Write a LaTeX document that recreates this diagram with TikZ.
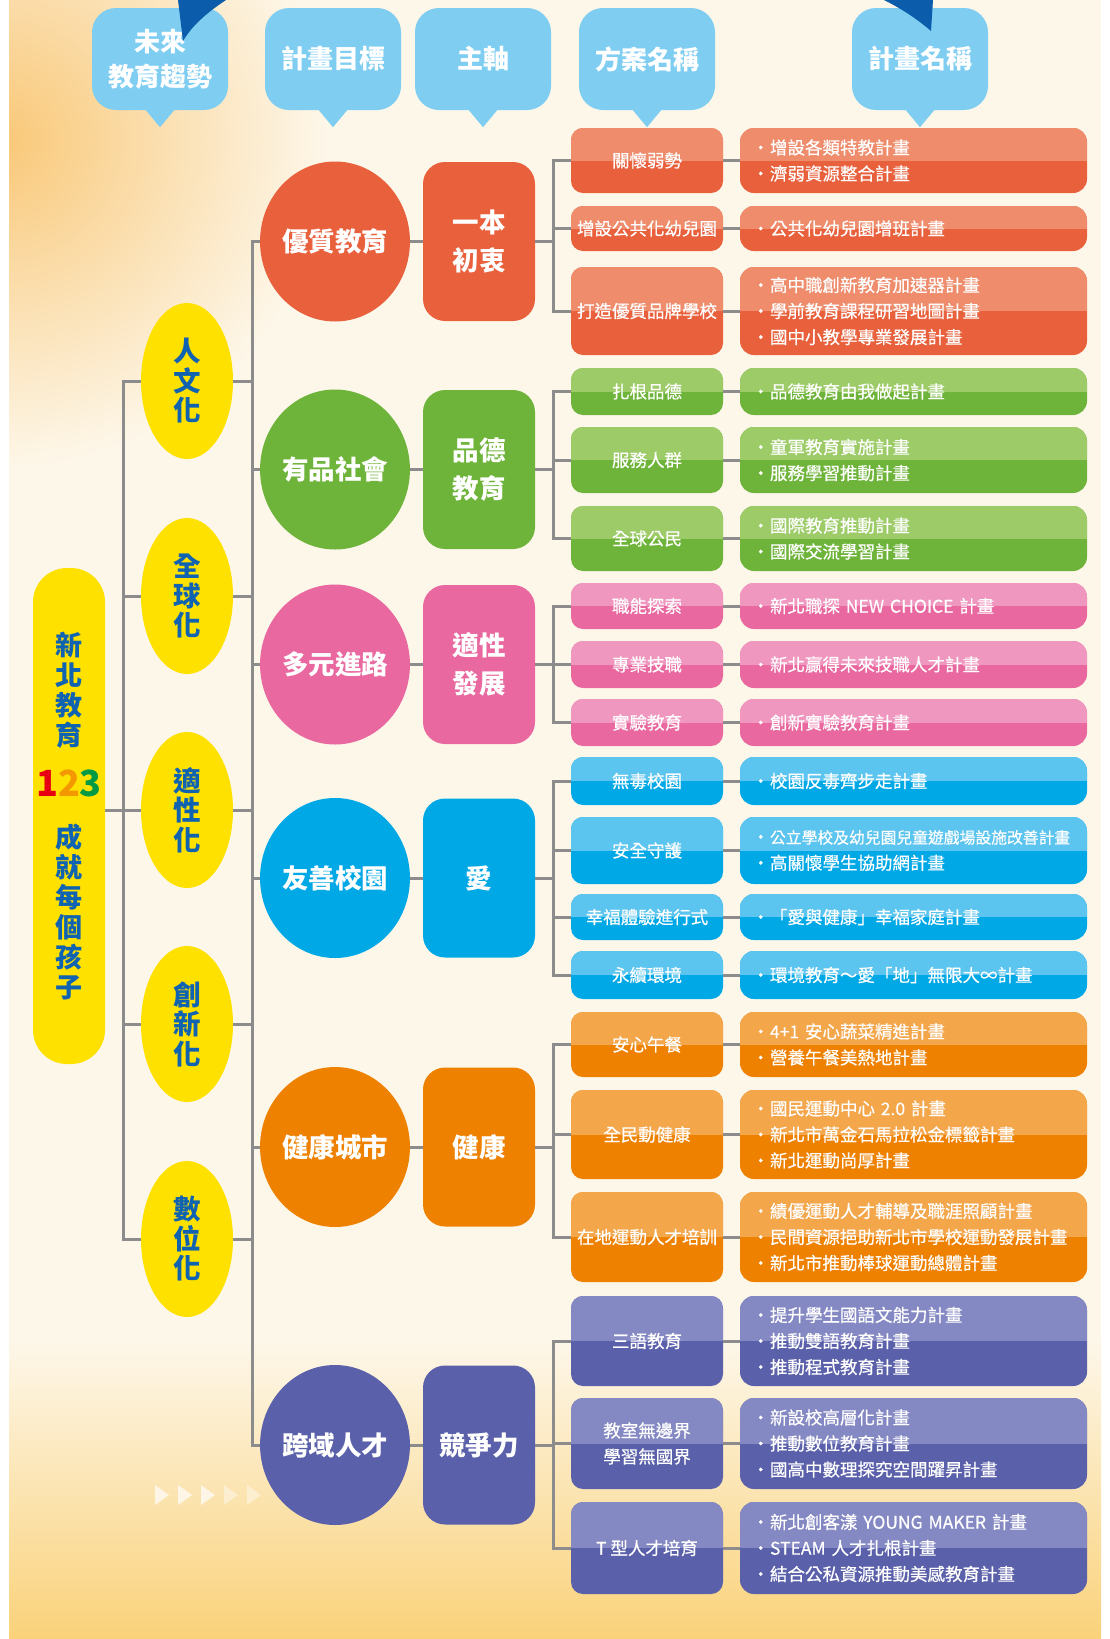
\documentclass[tikz,border=0pt]{standalone}
\usepackage{fontspec}
\setmainfont{Noto Sans CJK TC}
\newfontfamily\cjkmed{Noto Sans CJK TC}[FakeBold=0.5]
\usetikzlibrary{shapes.geometric}

\definecolor{bgcream}{HTML}{FDF7EA}
\definecolor{glow}{HTML}{F9C878}
\definecolor{sand}{HTML}{FAD27A}
\definecolor{linkgray}{HTML}{8C8C8C}
\definecolor{hdblue}{HTML}{7FCEF2}
\definecolor{navy}{HTML}{0C5CAC}
\definecolor{trendyel}{HTML}{FFE100}
\definecolor{trendtxt}{HTML}{0F63B1}
\definecolor{redD}{HTML}{E8603C}
\definecolor{redL}{HTML}{EE8C6C}
\definecolor{grnD}{HTML}{6FB43A}
\definecolor{grnL}{HTML}{9CCB68}
\definecolor{pnkD}{HTML}{E8689F}
\definecolor{pnkL}{HTML}{F097C0}
\definecolor{bluD}{HTML}{00A8E6}
\definecolor{bluL}{HTML}{5CC5EF}
\definecolor{orgD}{HTML}{EE8100}
\definecolor{orgL}{HTML}{F4A64B}
\definecolor{prpD}{HTML}{5A60A9}
\definecolor{prpL}{HTML}{8589C3}
\definecolor{oneRed}{HTML}{E60012}
\definecolor{twoOrg}{HTML}{F39800}
\definecolor{threeGrn}{HTML}{009944}

\newcommand{\itm}{\makebox[18pt][l]{•}}

\begin{document}
\begin{tikzpicture}[x=1pt,y=1pt,yscale=-1,
		link/.style={draw=linkgray, line width=3pt},
		bubble/.style={fill=hdblue, rounded corners=24pt, minimum width=136, minimum height=102, inner sep=0, text=white, align=center, font=\fontsize{26}{35}\selectfont\bfseries},
		mainbox/.style={fill=trendyel, rounded corners=34pt, minimum width=72, minimum height=496, inner sep=0, text=trendtxt, align=center, font=\fontsize{27}{30}\selectfont\bfseries},
		trend/.style={ellipse, fill=trendyel, minimum width=92, minimum height=156, inner sep=0, text=trendtxt, align=center, font=\fontsize{27.5}{29.5}\selectfont\bfseries},
		goal/.style={ellipse, fill=#1, minimum width=136, minimum height=160, inner sep=0, text=white, font=\fontsize{26.5}{30}\selectfont\bfseries},
		pillar/.style={fill=#1, rounded corners=22pt, minimum width=112, minimum height=159, inner sep=0, text=white, align=center, font=\fontsize{26.5}{38}\selectfont\bfseries},
		tone/.style 2 args={fill=#1, path picture={\fill[#2, sharp corners] (path picture bounding box.north west) rectangle (path picture bounding box.east);}},
		plan/.style={rounded corners=12pt, minimum width=152, inner sep=0, text=white, align=center, font=\cjkmed\fontsize{17.5}{26}\selectfont},
		detail/.style={rounded corners=14pt, text width=323, inner xsep=12, inner ysep=0, text=white, align=left, font=\cjkmed\fontsize{17.5}{26}\selectfont}]
		% Set the frame of the diagram to 1110 x 1639
		\useasboundingbox (0,0) rectangle (1110,1639);

		% Draw the background with its warm glows
		\fill[white] (0,0) rectangle (1110,1639);
		\fill[bgcream] (9,0) rectangle (1101,1639);
		\begin{scope}
			\clip (9,0) rectangle (1101,1639);
			\shade[inner color=glow, outer color=bgcream] (0,140) circle (330);
			\shade[top color=bgcream, bottom color=sand] (9,1340) rectangle (1101,1639);
		\end{scope}

		% Draw the faint arrows at the bottom left
		\fill[white, opacity=0.7] (155,1485) -- (169,1495) -- (155,1505) -- cycle
			(178,1485) -- (192,1495) -- (178,1505) -- cycle
			(201,1485) -- (215,1495) -- (201,1505) -- cycle;
		\fill[white, opacity=0.4] (224,1485) -- (238,1495) -- (224,1505) -- cycle
			(247,1485) -- (261,1495) -- (247,1505) -- cycle;

		% The column headings (speech bubbles)
		\node[bubble] (hdTrend) at (160,59) {未來\\教育趨勢};
		\node[bubble] (hdGoal) at (333,59) {計畫目標};
		\node[bubble] (hdAxis) at (483,59) {主軸};
		\node[bubble] (hdPlan) at (647,59) {方案名稱};
		\node[bubble] (hdProj) at (920,59) {計畫名稱};
		\fill[hdblue] (hdTrend.south) ++(-15,-1) -- ++(30,0) -- ++(-15,18) -- cycle;
		\fill[hdblue] (hdGoal.south) ++(-15,-1) -- ++(30,0) -- ++(-15,18) -- cycle;
		\fill[hdblue] (hdAxis.south) ++(-15,-1) -- ++(30,0) -- ++(-15,18) -- cycle;
		\fill[hdblue] (hdPlan.south) ++(-15,-1) -- ++(30,0) -- ++(-15,18) -- cycle;
		\fill[hdblue] (hdProj.south) ++(-15,-1) -- ++(30,0) -- ++(-15,18) -- cycle;

		% The dark blue arrow tips cut by the top edge
		\fill[navy] (178,0) -- (226,0) .. controls (205,14) and (192,26) .. (183,41) -- cycle;
		\fill[navy] (884,0) -- (933,0) -- (931,31) .. controls (916,18) and (900,8) .. (884,0) -- cycle;

		% The motto on the left
		\node[mainbox] (motto) at (69,816) {新\\北\\教\\育\\[21pt]{\fontsize{36}{36}\selectfont\textcolor{oneRed}{1}\textcolor{twoOrg}{2}\textcolor{threeGrn}{3}}\\[21pt]成\\就\\每\\個\\孩\\子};

		% The future trends (yellow ellipses)
		\node[trend] (trHum) at (187,381) {人\\文\\化};
		\node[trend] (trGlo) at (187,596) {全\\球\\化};
		\node[trend] (trApt) at (187,810) {適\\性\\化};
		\node[trend] (trInn) at (187,1024) {創\\新\\化};
		\node[trend] (trDig) at (187,1239) {數\\位\\化};

		% The goals (circles)
		\node[goal=redD] (gQual) at (335,241.5) {優質教育};
		\node[goal=grnD] (gSoc) at (335,469.5) {有品社會};
		\node[goal=pnkD] (gPath) at (335,664.5) {多元進路};
		\node[goal=bluD] (gFri) at (335,878) {友善校園};
		\node[goal=orgD] (gHlt) at (335,1147) {健康城市};
		\node[goal=prpD] (gTal) at (335,1445) {跨域人才};

		% The main axes (rounded squares)
		\node[pillar=redD] (aQual) at (479,241.5) {一本\\初衷};
		\node[pillar=grnD] (aSoc) at (479,469.5) {品德\\教育};
		\node[pillar=pnkD] (aPath) at (479,664.5) {適性\\發展};
		\node[pillar=bluD] (aFri) at (479,878) {愛};
		\node[pillar=orgD] (aHlt) at (479,1147) {健康};
		\node[pillar=prpD] (aTal) at (479,1445) {競爭力};

		% Red group: plans and projects
		\node[plan, tone={redD}{redL}, minimum height=65] (p11) at (647,160.5) {關懷弱勢};
		\node[plan, tone={redD}{redL}, minimum height=45] (p12) at (647,228.5) {增設公共化幼兒園};
		\node[plan, tone={redD}{redL}, minimum height=88] (p13) at (647,311) {打造優質品牌學校};
		\node[detail, tone={redD}{redL}, minimum height=65] (d11) at (913.5,160.5) {\itm 增設各類特教計畫\\\itm 濟弱資源整合計畫};
		\node[detail, tone={redD}{redL}, minimum height=45] (d12) at (913.5,228.5) {\itm 公共化幼兒園增班計畫};
		\node[detail, tone={redD}{redL}, minimum height=88] (d13) at (913.5,311) {\itm 高中職創新教育加速器計畫\\\itm 學前教育課程研習地圖計畫\\\itm 國中小教學專業發展計畫};

		% Green group
		\node[plan, tone={grnD}{grnL}, minimum height=47] (p21) at (647,391.5) {扎根品德};
		\node[plan, tone={grnD}{grnL}, minimum height=66] (p22) at (647,460) {服務人群};
		\node[plan, tone={grnD}{grnL}, minimum height=65] (p23) at (647,538.5) {全球公民};
		\node[detail, tone={grnD}{grnL}, minimum height=47] (d21) at (913.5,391.5) {\itm 品德教育由我做起計畫};
		\node[detail, tone={grnD}{grnL}, minimum height=66] (d22) at (913.5,460) {\itm 童軍教育實施計畫\\\itm 服務學習推動計畫};
		\node[detail, tone={grnD}{grnL}, minimum height=65] (d23) at (913.5,538.5) {\itm 國際教育推動計畫\\\itm 國際交流學習計畫};

		% Pink group
		\node[plan, tone={pnkD}{pnkL}, minimum height=46] (p31) at (647,606) {職能探索};
		\node[plan, tone={pnkD}{pnkL}, minimum height=47] (p32) at (647,664.5) {專業技職};
		\node[plan, tone={pnkD}{pnkL}, minimum height=47] (p33) at (647,722.5) {實驗教育};
		\node[detail, tone={pnkD}{pnkL}, minimum height=46] (d31) at (913.5,606) {\itm 新北職探 NEW CHOICE 計畫};
		\node[detail, tone={pnkD}{pnkL}, minimum height=47] (d32) at (913.5,664.5) {\itm 新北贏得未來技職人才計畫};
		\node[detail, tone={pnkD}{pnkL}, minimum height=47] (d33) at (913.5,722.5) {\itm 創新實驗教育計畫};

		% Blue group
		\node[plan, tone={bluD}{bluL}, minimum height=48] (p41) at (647,781) {無毒校園};
		\node[plan, tone={bluD}{bluL}, minimum height=67] (p42) at (647,850.5) {安全守護};
		\node[plan, tone={bluD}{bluL}, minimum height=46] (p43) at (647,917) {幸福體驗進行式};
		\node[plan, tone={bluD}{bluL}, minimum height=48] (p44) at (647,975) {永續環境};
		\node[detail, tone={bluD}{bluL}, minimum height=48] (d41) at (913.5,781) {\itm 校園反毒齊步走計畫};
		\node[detail, tone={bluD}{bluL}, minimum height=67] (d42) at (913.5,850.5) {\itm{\fontsize{15.8}{26}\selectfont 公立學校及幼兒園兒童遊戲場設施改善計畫}\\\itm 高關懷學生協助網計畫};
		\node[detail, tone={bluD}{bluL}, minimum height=46] (d43) at (913.5,917) {\itm 「愛與健康」幸福家庭計畫};
		\node[detail, tone={bluD}{bluL}, minimum height=48] (d44) at (913.5,975) {\itm 環境教育～愛「地」無限大∞計畫};

		% Orange group
		\node[plan, tone={orgD}{orgL}, minimum height=65] (p51) at (647,1044.5) {安心午餐};
		\node[plan, tone={orgD}{orgL}, minimum height=89] (p52) at (647,1134.5) {全民動健康};
		\node[plan, tone={orgD}{orgL}, minimum height=90] (p53) at (647,1237) {在地運動人才培訓};
		\node[detail, tone={orgD}{orgL}, minimum height=65] (d51) at (913.5,1044.5) {\itm 4+1 安心蔬菜精進計畫\\\itm 營養午餐美熱地計畫};
		\node[detail, tone={orgD}{orgL}, minimum height=89] (d52) at (913.5,1134.5) {\itm 國民運動中心 2.0 計畫\\\itm 新北市萬金石馬拉松金標籤計畫\\\itm 新北運動尚厚計畫};
		\node[detail, tone={orgD}{orgL}, minimum height=90] (d53) at (913.5,1237) {\itm 績優運動人才輔導及職涯照顧計畫\\\itm 民間資源挹助新北市學校運動發展計畫\\\itm 新北市推動棒球運動總體計畫};

		% Purple group
		\node[plan, tone={prpD}{prpL}, minimum height=90] (p61) at (647,1341) {三語教育};
		\node[plan, tone={prpD}{prpL}, minimum height=91] (p62) at (647,1443.5) {教室無邊界\\學習無國界};
		\node[plan, tone={prpD}{prpL}, minimum height=92] (p63) at (647,1548) {T 型人才培育};
		\node[detail, tone={prpD}{prpL}, minimum height=90] (d61) at (913.5,1341) {\itm 提升學生國語文能力計畫\\\itm 推動雙語教育計畫\\\itm 推動程式教育計畫};
		\node[detail, tone={prpD}{prpL}, minimum height=91] (d62) at (913.5,1443.5) {\itm 新設校高層化計畫\\\itm 推動數位教育計畫\\\itm 國高中數理探究空間躍昇計畫};
		\node[detail, tone={prpD}{prpL}, minimum height=92] (d63) at (913.5,1548) {\itm 新北創客漾 YOUNG MAKER 計畫\\\itm STEAM 人才扎根計畫\\\itm 結合公私資源推動美感教育計畫};

		% The vertical buses of the tree
		\coordinate (busA) at (123,0);
		\coordinate (busB) at (252,0);
		\coordinate (busC) at (553,0);

		% Motto to the trends
		\draw[link] (motto.east |- trApt.west) -- (trApt.west);
		\draw[link] (trHum.west) -| (busA |- trDig.west) -- (trDig.west);
		\draw[link] (trGlo.west) -- (trGlo.west -| busA);
		\draw[link] (trInn.west) -- (trInn.west -| busA);

		% Trends to the goals
		\draw[link] (gQual.west) -| (busB |- gTal.west) -- (gTal.west);
		\draw[link] (trHum.east) -- (trHum.east -| busB);
		\draw[link] (trGlo.east) -- (trGlo.east -| busB);
		\draw[link] (trApt.east) -- (trApt.east -| busB);
		\draw[link] (trInn.east) -- (trInn.east -| busB);
		\draw[link] (trDig.east) -- (trDig.east -| busB);
		\draw[link] (gSoc.west) -- (gSoc.west -| busB);
		\draw[link] (gPath.west) -- (gPath.west -| busB);
		\draw[link] (gFri.west) -- (gFri.west -| busB);
		\draw[link] (gHlt.west) -- (gHlt.west -| busB);

		% Goals to the axes
		\draw[link] (gQual) -- (aQual);
		\draw[link] (gSoc) -- (aSoc);
		\draw[link] (gPath) -- (aPath);
		\draw[link] (gFri) -- (aFri);
		\draw[link] (gHlt) -- (aHlt);
		\draw[link] (gTal) -- (aTal);

		% Axes to the plans
		\draw[link] (aQual.east) -- (aQual.east -| busC);
		\draw[link] (p11.west) -| (busC |- p13.west) -- (p13.west);
		\draw[link] (p12.west) -- (p12.west -| busC);
		\draw[link] (aSoc.east) -- (aSoc.east -| busC);
		\draw[link] (p21.west) -| (busC |- p23.west) -- (p23.west);
		\draw[link] (p22.west) -- (p22.west -| busC);
		\draw[link] (aPath.east) -- (aPath.east -| busC);
		\draw[link] (p31.west) -| (busC |- p33.west) -- (p33.west);
		\draw[link] (p32.west) -- (p32.west -| busC);
		\draw[link] (aFri.east) -- (aFri.east -| busC);
		\draw[link] (p41.west) -| (busC |- p44.west) -- (p44.west);
		\draw[link] (p42.west) -- (p42.west -| busC);
		\draw[link] (p43.west) -- (p43.west -| busC);
		\draw[link] (aHlt.east) -- (aHlt.east -| busC);
		\draw[link] (p51.west) -| (busC |- p53.west) -- (p53.west);
		\draw[link] (p52.west) -- (p52.west -| busC);
		\draw[link] (aTal.east) -- (aTal.east -| busC);
		\draw[link] (p61.west) -| (busC |- p63.west) -- (p63.west);
		\draw[link] (p62.west) -- (p62.west -| busC);

		% Plans to the projects
		\draw[link] (p11) -- (d11);
		\draw[link] (p12) -- (d12);
		\draw[link] (p13) -- (d13);
		\draw[link] (p21) -- (d21);
		\draw[link] (p22) -- (d22);
		\draw[link] (p23) -- (d23);
		\draw[link] (p31) -- (d31);
		\draw[link] (p32) -- (d32);
		\draw[link] (p33) -- (d33);
		\draw[link] (p41) -- (d41);
		\draw[link] (p42) -- (d42);
		\draw[link] (p43) -- (d43);
		\draw[link] (p44) -- (d44);
		\draw[link] (p51) -- (d51);
		\draw[link] (p52) -- (d52);
		\draw[link] (p53) -- (d53);
		\draw[link] (p61) -- (d61);
		\draw[link] (p62) -- (d62);
		\draw[link] (p63) -- (d63);
	\end{tikzpicture}
\end{document}
